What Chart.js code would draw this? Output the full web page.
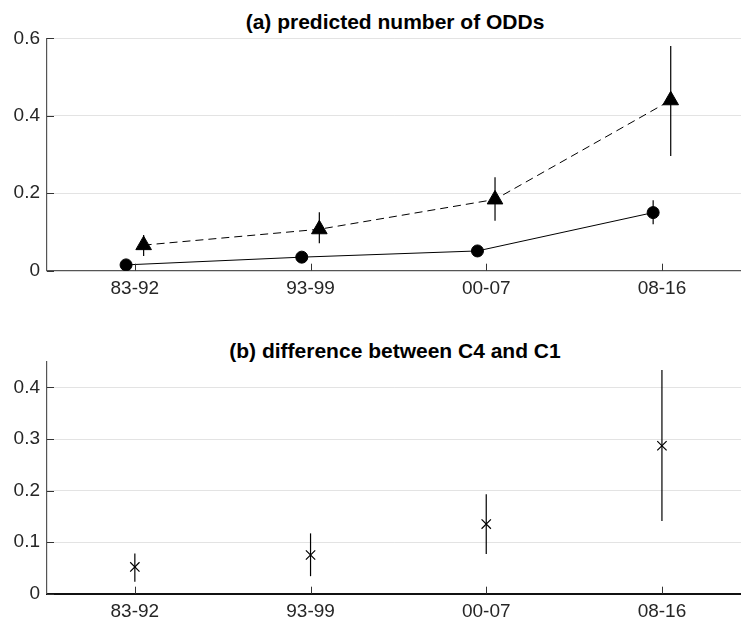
<!DOCTYPE html>
<html>
<head>
<meta charset="utf-8">
<script src="https://cdn.jsdelivr.net/npm/chart.js@4.4.1/dist/chart.umd.min.js"></script>
<style>
  html, body { margin: 0; padding: 0; background: #fff; }
  body { width: 741px; height: 624px; overflow: hidden; position: relative; }
  canvas { position: absolute; left: 0; }
  .ttl {
    position: absolute; left: 0; width: 790px; text-align: center;
    font: bold 21px "Liberation Sans", Arial, sans-serif; color: #000;
    line-height: 24px;
  }
</style>
</head>
<body>
<div class="ttl" style="top:10px">(a) predicted number of ODDs</div>
<canvas id="chartA" width="741" height="310" style="top:0"></canvas>
<div class="ttl" style="top:339px">(b) difference between C4 and C1</div>
<canvas id="chartB" width="741" height="314" style="top:310px"></canvas>
<script>
// periods on the x axis
var periods = ['83-92', '93-99', '00-07', '08-16'];

// (a) C1 (circles, solid) and C4 (triangles, dashed)
var c1Mean = [0.015, 0.035, 0.051, 0.150];
var c1Low  = [0.009, 0.028, 0.043, 0.120];
var c1High = [0.021, 0.042, 0.059, 0.182];

var c4Mean = [0.066, 0.107, 0.184, 0.440];
var c4Low  = [0.038, 0.071, 0.129, 0.296];
var c4High = [0.092, 0.151, 0.241, 0.580];

// (b) difference C4 - C1
var diffMean = [0.052, 0.075, 0.135, 0.287];
var diffLow  = [0.023, 0.034, 0.077, 0.141];
var diffHigh = [0.078, 0.117, 0.193, 0.434];

var topTicks = [0, 0.2, 0.4, 0.6];
var bottomTicks = [0, 0.1, 0.2, 0.3, 0.4];

var dodge = 0.05;
var tickFont = { family: '"Liberation Sans", Arial, sans-serif', size: 19 };

function pts(mean, shift) {
    return mean.map(function (v, i) { return { x: i + 1 + shift, y: v }; });
}

// vertical error bars, drawn through the chart scales
var errorBars = {
    id: 'errorBars',
    beforeDatasetsDraw: function (chart) {
        var ctx = chart.ctx, xs = chart.scales.x, ys = chart.scales.y;
        ctx.save();
        ctx.strokeStyle = '#000';
        ctx.lineWidth = 1.2;
        chart.data.datasets.forEach(function (ds) {
            if (!ds.errLow) return;
            ds.data.forEach(function (p, i) {
                var px = xs.getPixelForValue(p.x);
                ctx.beginPath();
                ctx.moveTo(px, ys.getPixelForValue(ds.errLow[i]));
                ctx.lineTo(px, ys.getPixelForValue(ds.errHigh[i]));
                ctx.stroke();
            });
        });
        ctx.restore();
    }
};

// matlab style inward ticks
var inTicks = {
    id: 'inTicks',
    afterDraw: function (chart) {
        var ctx = chart.ctx, a = chart.chartArea;
        var xs = chart.scales.x, ys = chart.scales.y;
        ctx.save();
        ctx.strokeStyle = '#333';
        ctx.lineWidth = 1;
        xs.ticks.forEach(function (t) {
            var px = Math.round(xs.getPixelForValue(t.value)) + 0.5;
            ctx.beginPath();
            ctx.moveTo(px, a.bottom);
            ctx.lineTo(px, a.bottom - 7);
            ctx.stroke();
        });
        ys.ticks.forEach(function (t) {
            var py = Math.round(ys.getPixelForValue(t.value)) + 0.5;
            ctx.beginPath();
            ctx.moveTo(a.left, py);
            ctx.lineTo(a.left + 7, py);
            ctx.stroke();
        });
        ctx.restore();
    }
};

function makeOptions(yMax, yTicks, padTop, xHeight, xBorder) {
    return {
        responsive: false,
        animation: false,
        layout: { autoPadding: false, padding: { top: padTop, left: 0, right: 0, bottom: 0 } },
        plugins: { legend: { display: false }, tooltip: { enabled: false }, title: { display: false } },
        scales: {
            x: {
                type: 'linear',
                min: 0.5,
                max: 4.45,
                afterBuildTicks: function (s) {
                    s.ticks = periods.map(function (p, i) { return { value: i + 1 }; });
                },
                afterFit: function (s) {
                    s.height = xHeight;
                    s.paddingLeft = 0;
                    s.paddingRight = 0;
                },
                ticks: {
                    color: '#262626',
                    font: tickFont,
                    padding: 7,
                    maxRotation: 0,
                    callback: function (v) { return periods[v - 1]; }
                },
                grid: { display: false, drawTicks: false },
                border: xBorder
            },
            y: {
                min: 0,
                max: yMax,
                afterBuildTicks: function (s) {
                    s.ticks = yTicks.map(function (v) { return { value: v }; });
                },
                afterFit: function (s) { s.width = 47; },
                ticks: {
                    color: '#262626',
                    font: tickFont,
                    padding: 7,
                    callback: function (v) { return String(v); }
                },
                grid: { color: '#e3e3e3', lineWidth: 1, drawTicks: false },
                border: { display: true, color: '#555', width: 1.2 }
            }
        }
    };
}

new Chart(document.getElementById('chartA'), {
    type: 'line',
    data: {
        datasets: [{
            data: pts(c1Mean, -dodge),
            errLow: c1Low,
            errHigh: c1High,
            borderColor: '#000',
            borderWidth: 1,
            pointStyle: 'circle',
            pointRadius: 6,
            pointBackgroundColor: '#000',
            pointBorderColor: '#000',
            pointBorderWidth: 1,
            tension: 0
        }, {
            data: pts(c4Mean, dodge),
            errLow: c4Low,
            errHigh: c4High,
            borderColor: '#000',
            borderWidth: 1,
            borderDash: [8, 5],
            pointStyle: 'triangle',
            pointRadius: 9,
            pointBackgroundColor: '#000',
            pointBorderColor: '#000',
            pointBorderWidth: 1,
            tension: 0
        }]
    },
    options: makeOptions(0.6, topTicks, 38.3, 39.3, { display: true, color: '#555', width: 1.2 }),
    plugins: [errorBars, inTicks]
});

new Chart(document.getElementById('chartB'), {
    type: 'line',
    data: {
        datasets: [{
            data: pts(diffMean, 0),
            errLow: diffLow,
            errHigh: diffHigh,
            showLine: false,
            borderColor: '#000',
            pointStyle: 'crossRot',
            pointRadius: 6.6,
            pointBorderColor: '#000',
            pointBorderWidth: 1.2
        }]
    },
    options: makeOptions(0.45, bottomTicks, 51.7, 30.3, { display: true, color: '#111', width: 2 }),
    plugins: [errorBars, inTicks]
});
</script>
</body>
</html>
